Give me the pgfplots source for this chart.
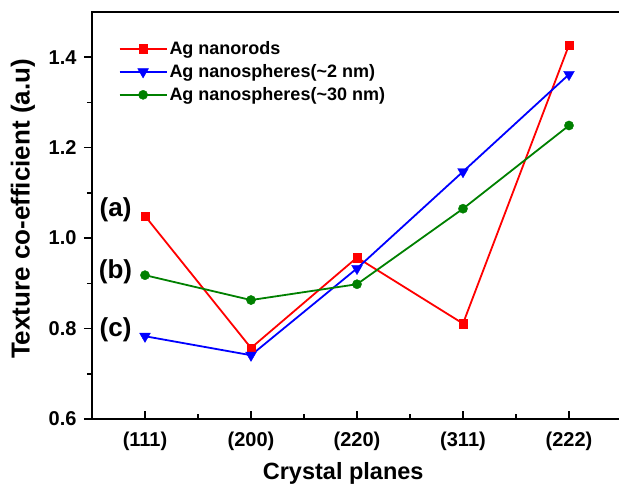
\documentclass[border=0pt]{standalone}
\usepackage{pgfplots}
\pgfplotsset{compat=1.18}
\usepackage{fontspec}
\setmainfont{Liberation Sans}
\definecolor{cred}{RGB}{255,0,0}
\definecolor{cblue}{RGB}{0,0,255}
\definecolor{cgreen}{RGB}{0,128,0}
\begin{document}
\begin{tikzpicture}
\begin{axis}[name=ax, scale only axis, width=530pt, height=407pt,
  xmin=-0.5, xmax=4.5, ymin=0.6, ymax=1.5,
  xtick={0,1,2,3,4}, xticklabels={(111),(200),(220),(311),(222)},
  minor x tick num=1,
  ytick={0.6,0.8,1.0,1.2,1.4}, minor y tick num=1,
  xtick pos=bottom, ytick pos=left,
  xtick align=inside, ytick align=outside,
  major tick length=8pt, minor tick length=5pt,
  every tick/.style={line width=1.5pt, black},
  axis line style={line width=2pt},
  /pgf/number format/assume math mode=true,
  yticklabel style={/pgf/number format/fixed, /pgf/number format/fixed zerofill, /pgf/number format/precision=1, xshift=-4pt},
  ticklabel style={font=\fontsize{20}{20}\selectfont\bfseries},
  xticklabel style={yshift=-9pt},
  xlabel={Crystal planes}, ylabel={Texture co-efficient (a.u)},
  every axis x label/.style={at={(rel axis cs:0.474,0)}, anchor=center, yshift=-54pt, font=\fontsize{23.5}{23.5}\selectfont\bfseries},
  every axis y label/.style={at={(rel axis cs:0,0.516)}, xshift=-69pt, rotate=90, anchor=center, font=\fontsize{26}{26}\selectfont\bfseries},
  legend style={draw=none, fill=none, at={(0.05,0.933)}, anchor=north west, inner sep=0pt,
    font=\fontsize{18}{18}\selectfont\bfseries, row sep=4.5pt},
  legend cell align=left,
  legend image code/.code={\draw[mark repeat=2,mark phase=2] plot coordinates {(0pt,0pt)(23.5pt,0pt)(47pt,0pt)};},
]
\addplot[cred, line width=1.8pt, mark=square*, mark size=4.2pt, mark options={line width=0.4pt}] coordinates {
(0,1.049) (1,0.757) (2,0.957) (3,0.811) (4,1.427)};
\addlegendentry{Ag nanorods}
\addplot[cblue, line width=1.8pt, mark=triangle*, mark size=6.2pt, mark options={rotate=180, line width=0.4pt}] coordinates {
(0,0.783) (1,0.741) (2,0.933) (3,1.147) (4,1.362)};
\addlegendentry{Ag nanospheres(\textasciitilde 2 nm)}
\addplot[cgreen, line width=1.8pt, mark=*, mark size=4.6pt, mark options={line width=0.4pt}] coordinates {
(0,0.918) (1,0.863) (2,0.898) (3,1.065) (4,1.249)};
\addlegendentry{Ag nanospheres(\textasciitilde 30 nm)}
\node[font=\fontsize{26}{26}\selectfont\bfseries] at (axis cs:-0.278,1.062) {(a)};
\node[font=\fontsize{26}{26}\selectfont\bfseries] at (axis cs:-0.278,0.925) {(b)};
\node[font=\fontsize{26}{26}\selectfont\bfseries] at (axis cs:-0.278,0.797) {(c)};
\end{axis}
\pgfresetboundingbox
\path[use as bounding box] ([xshift=-92pt,yshift=-67pt]ax.south west) rectangle ([xshift=527pt,yshift=12pt]ax.north west);
\end{tikzpicture}
\end{document}
